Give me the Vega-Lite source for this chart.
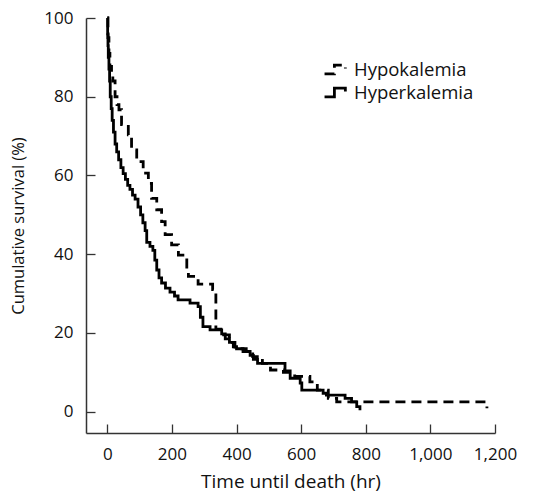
{
  "$schema": "https://vega.github.io/schema/vega-lite/v6.json",
  "width": 409,
  "height": 415,
  "autosize": {"type": "none"},
  "padding": {"left": 86, "top": 18, "right": 39, "bottom": 68},
  "background": "white",
  "config": {"view": {"stroke": null}, "font": "Open Sans"},
  "data": {
    "values": [
      {"group": "Hyperkalemia", "t": 0, "s": 100},
      {"group": "Hyperkalemia", "t": 1, "s": 96},
      {"group": "Hyperkalemia", "t": 2, "s": 93},
      {"group": "Hyperkalemia", "t": 3, "s": 90},
      {"group": "Hyperkalemia", "t": 5, "s": 87},
      {"group": "Hyperkalemia", "t": 7, "s": 84},
      {"group": "Hyperkalemia", "t": 9, "s": 80},
      {"group": "Hyperkalemia", "t": 12, "s": 77},
      {"group": "Hyperkalemia", "t": 15, "s": 74},
      {"group": "Hyperkalemia", "t": 19, "s": 71},
      {"group": "Hyperkalemia", "t": 24, "s": 68},
      {"group": "Hyperkalemia", "t": 29, "s": 66},
      {"group": "Hyperkalemia", "t": 35, "s": 64},
      {"group": "Hyperkalemia", "t": 42, "s": 62},
      {"group": "Hyperkalemia", "t": 49, "s": 60.5},
      {"group": "Hyperkalemia", "t": 56, "s": 59},
      {"group": "Hyperkalemia", "t": 63, "s": 57.5},
      {"group": "Hyperkalemia", "t": 70, "s": 56.5},
      {"group": "Hyperkalemia", "t": 78, "s": 55},
      {"group": "Hyperkalemia", "t": 86, "s": 54},
      {"group": "Hyperkalemia", "t": 95, "s": 52},
      {"group": "Hyperkalemia", "t": 103, "s": 50},
      {"group": "Hyperkalemia", "t": 110, "s": 48},
      {"group": "Hyperkalemia", "t": 117, "s": 46},
      {"group": "Hyperkalemia", "t": 122, "s": 43},
      {"group": "Hyperkalemia", "t": 132, "s": 42},
      {"group": "Hyperkalemia", "t": 141, "s": 41},
      {"group": "Hyperkalemia", "t": 147, "s": 38.5},
      {"group": "Hyperkalemia", "t": 153, "s": 36},
      {"group": "Hyperkalemia", "t": 160, "s": 34},
      {"group": "Hyperkalemia", "t": 168, "s": 32.7},
      {"group": "Hyperkalemia", "t": 180, "s": 31.4},
      {"group": "Hyperkalemia", "t": 194, "s": 30.4},
      {"group": "Hyperkalemia", "t": 208, "s": 29.4},
      {"group": "Hyperkalemia", "t": 219, "s": 28.4},
      {"group": "Hyperkalemia", "t": 256, "s": 27.6},
      {"group": "Hyperkalemia", "t": 281, "s": 26.7},
      {"group": "Hyperkalemia", "t": 288, "s": 24},
      {"group": "Hyperkalemia", "t": 296, "s": 21.6},
      {"group": "Hyperkalemia", "t": 318, "s": 20.8},
      {"group": "Hyperkalemia", "t": 354, "s": 19.8},
      {"group": "Hyperkalemia", "t": 365, "s": 18.5},
      {"group": "Hyperkalemia", "t": 378, "s": 17.6},
      {"group": "Hyperkalemia", "t": 390, "s": 16.5},
      {"group": "Hyperkalemia", "t": 400, "s": 16},
      {"group": "Hyperkalemia", "t": 430, "s": 15.3},
      {"group": "Hyperkalemia", "t": 442, "s": 14.3},
      {"group": "Hyperkalemia", "t": 452, "s": 13.3},
      {"group": "Hyperkalemia", "t": 465, "s": 12.3},
      {"group": "Hyperkalemia", "t": 550, "s": 10.4},
      {"group": "Hyperkalemia", "t": 566, "s": 8.5},
      {"group": "Hyperkalemia", "t": 597, "s": 7.3},
      {"group": "Hyperkalemia", "t": 602, "s": 5.5},
      {"group": "Hyperkalemia", "t": 668, "s": 4.7},
      {"group": "Hyperkalemia", "t": 678, "s": 4.2},
      {"group": "Hyperkalemia", "t": 736, "s": 3.4},
      {"group": "Hyperkalemia", "t": 756, "s": 2.5},
      {"group": "Hyperkalemia", "t": 772, "s": 1.3},
      {"group": "Hyperkalemia", "t": 782, "s": 0.4},
      {"group": "Hypokalemia", "t": 0, "s": 100},
      {"group": "Hypokalemia", "t": 2, "s": 95},
      {"group": "Hypokalemia", "t": 5, "s": 91},
      {"group": "Hypokalemia", "t": 8, "s": 87.7},
      {"group": "Hypokalemia", "t": 13, "s": 86},
      {"group": "Hypokalemia", "t": 17, "s": 84},
      {"group": "Hypokalemia", "t": 24, "s": 80},
      {"group": "Hypokalemia", "t": 30, "s": 78},
      {"group": "Hypokalemia", "t": 36, "s": 76.7},
      {"group": "Hypokalemia", "t": 44, "s": 72.9},
      {"group": "Hypokalemia", "t": 65, "s": 70.3},
      {"group": "Hypokalemia", "t": 75, "s": 66.5},
      {"group": "Hypokalemia", "t": 91, "s": 63.5},
      {"group": "Hypokalemia", "t": 111, "s": 60.6},
      {"group": "Hypokalemia", "t": 127, "s": 58},
      {"group": "Hypokalemia", "t": 137, "s": 54.2},
      {"group": "Hypokalemia", "t": 153, "s": 51.3},
      {"group": "Hypokalemia", "t": 168, "s": 48.3},
      {"group": "Hypokalemia", "t": 179, "s": 45},
      {"group": "Hypokalemia", "t": 199, "s": 42.4},
      {"group": "Hypokalemia", "t": 220, "s": 39.8},
      {"group": "Hypokalemia", "t": 246, "s": 36},
      {"group": "Hypokalemia", "t": 251, "s": 34.4},
      {"group": "Hypokalemia", "t": 281, "s": 32.4},
      {"group": "Hypokalemia", "t": 326, "s": 31},
      {"group": "Hypokalemia", "t": 336, "s": 21},
      {"group": "Hypokalemia", "t": 360, "s": 19.5},
      {"group": "Hypokalemia", "t": 378, "s": 17.6},
      {"group": "Hypokalemia", "t": 395, "s": 16},
      {"group": "Hypokalemia", "t": 420, "s": 15.3},
      {"group": "Hypokalemia", "t": 450, "s": 14},
      {"group": "Hypokalemia", "t": 480, "s": 12.3},
      {"group": "Hypokalemia", "t": 505, "s": 10.6},
      {"group": "Hypokalemia", "t": 545, "s": 10},
      {"group": "Hypokalemia", "t": 580, "s": 9},
      {"group": "Hypokalemia", "t": 627, "s": 7.6},
      {"group": "Hypokalemia", "t": 650, "s": 5.5},
      {"group": "Hypokalemia", "t": 684, "s": 3.4},
      {"group": "Hypokalemia", "t": 710, "s": 2.5},
      {"group": "Hypokalemia", "t": 1175, "s": 0.9}
    ]
  },
  "mark": {"type": "line", "interpolate": "step-after", "strokeWidth": 2.8, "color": "black"},
  "encoding": {
    "x": {
      "field": "t", "type": "quantitative",
      "scale": {"domain": [-66, 1200], "nice": false, "zero": false},
      "axis": {
        "values": [0, 200, 400, 600, 800, 1000, 1200], "format": ",d", "grid": false,
        "labelFlush": false, "labelOverlap": false,
        "tickSize": -9, "tickWidth": 1.3, "tickColor": "#333", "domainColor": "#333", "domainWidth": 1.5,
        "labelFontSize": 17, "labelColor": "#111", "labelPadding": 22,
        "title": "Time until death (hr)", "titleFontSize": 19, "titleFontWeight": "normal", "titleColor": "#111", "titlePadding": 10
      }
    },
    "y": {
      "field": "s", "type": "quantitative",
      "scale": {"domain": [-5.4, 100], "nice": false, "zero": false},
      "axis": {
        "values": [0, 20, 40, 60, 80, 100], "grid": false,
        "labelFlush": false, "labelOverlap": false,
        "tickSize": -9, "tickWidth": 1.3, "tickColor": "#333", "domainColor": "#333", "domainWidth": 1.5,
        "labelFontSize": 17, "labelColor": "#111", "labelPadding": 22,
        "title": "Cumulative survival (%)", "titleFontSize": 16.5, "titleFontWeight": "normal", "titleColor": "#111", "titlePadding": 17
      }
    },
    "strokeDash": {
      "field": "group", "type": "nominal",
      "scale": {"domain": ["Hypokalemia", "Hyperkalemia"], "range": [[10, 6], [1, 0]]},
      "legend": {
        "orient": "none", "legendX": 237, "legendY": 39, "title": null,
        "symbolType": "M-1,0.4H-0.1V-0.4H0.9V-0.1", "symbolSize": 480,
        "symbolStrokeWidth": 2.8, "symbolStrokeColor": "black", "symbolFillColor": "transparent",
        "labelFontSize": 18.5, "labelColor": "#111", "labelOffset": 6, "rowPadding": 0
      }
    }
  }
}
